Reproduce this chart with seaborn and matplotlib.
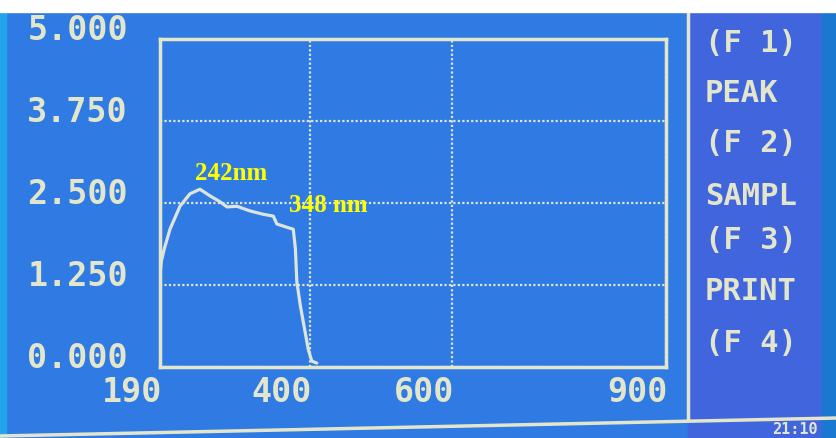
import matplotlib
matplotlib.use("Agg")
import matplotlib.pyplot as plt
import matplotlib.transforms as mtransforms
from matplotlib.patches import Rectangle
from matplotlib.lines import Line2D
import pandas as pd
import seaborn as sns

# spectrum
WAVELENGTH = [190, 192, 196, 204, 218, 232, 246, 260, 274, 284, 298, 316, 334,
              349, 354, 368, 377, 380, 382, 387, 391, 398, 403, 410]
ABSORBANCE = [1.42, 1.62, 1.80, 2.10, 2.45, 2.64, 2.71, 2.61, 2.52, 2.44, 2.45,
              2.38, 2.33, 2.30, 2.18, 2.13, 2.10, 1.80, 1.30, 0.93, 0.69, 0.27,
              0.09, 0.06]

X_TICKS = [190, 400, 600, 900]
Y_TICKS = [0.0, 1.25, 2.5, 3.75, 5.0]
Y_LABELS = ["0.000", "1.250", "2.500", "3.750", "5.000"]
MENU = ["(F 1)", "PEAK", "(F 2)", "SAMPL", "(F 3)", "PRINT", "(F 4)"]
PEAKS = [("242nm", 290, 2.96), ("348 nm", 426, 2.47)]

BG = "#2f7be3"
PANEL = "#4165dc"
FG = "#e4e6cc"
LINE = "#dde4da"
W, H = 837, 439

sns.set_style("white")
plt.rcParams["font.family"] = ["DejaVu Sans Mono"]

fig = plt.figure(figsize=(W / 100, H / 100), dpi=100, facecolor=BG)

# screen decorations
fig.add_artist(Rectangle((688 / W, 0), 134 / W, 1, transform=fig.transFigure,
                         color=PANEL, zorder=0))
fig.add_artist(Rectangle((822 / W, 0), 15 / W, 1, transform=fig.transFigure,
                         color="#1a78d0", zorder=0))
fig.add_artist(Rectangle((0, 0), 6 / W, 1, transform=fig.transFigure,
                         color="#22a4ec", zorder=0))
fig.add_artist(Rectangle((0, 1 - 13 / H), 1, 13 / H, transform=fig.transFigure,
                         color="white", zorder=5))
fig.add_artist(Line2D([688 / W, 688 / W], [1 - 13 / H, 1 - 421 / H],
                      transform=fig.transFigure, color=FG, lw=2.5))
fig.add_artist(Line2D([0, 1], [1 - 437 / H, 1 - 419 / H],
                      transform=fig.transFigure, color=FG, lw=2.5))

ax = fig.add_axes([160 / W, 71 / H, 506 / W, 328 / H])
ax.set_facecolor("none")

df = pd.DataFrame({"wl": WAVELENGTH, "abs": ABSORBANCE})
sns.lineplot(data=df, x="wl", y="abs", ax=ax, color=LINE, lw=2.3, sort=False)

ax.set_xlim(190, 900)
ax.set_ylim(0, 5)
ax.set_xticks(X_TICKS)
ax.set_xticklabels([str(v) for v in X_TICKS])
ax.set_yticks(Y_TICKS)
ax.set_yticklabels(Y_LABELS)
ax.set_xlabel("")
ax.set_ylabel("")
ax.grid(True, color=LINE, lw=1.6, linestyle=(0, (1, 1)))
for s in ax.spines.values():
    s.set_color(FG)
    s.set_linewidth(2.5)
ax.tick_params(axis="both", length=0, colors=FG, labelsize=24)
ax.tick_params(axis="y", pad=23)
ax.tick_params(axis="x", pad=6)
for lab in ax.get_yticklabels():
    lab.set_fontweight("bold")
    lab.set_transform(lab.get_transform()
                      + mtransforms.ScaledTranslation(0, 0.13, fig.dpi_scale_trans))
for lab in ax.get_xticklabels():
    lab.set_fontweight("bold")
    lab.set_horizontalalignment("right")
    lab.set_transform(lab.get_transform()
                      + mtransforms.ScaledTranslation(0.02, 0, fig.dpi_scale_trans))

for text, x, y in PEAKS:
    ax.text(x, y, text, color="#ffff00", fontsize=18, fontweight="bold",
            family="Liberation Serif", ha="center", va="center")

menu_y = [43, 93, 144, 197, 241, 291, 344]
for text, y in zip(MENU, menu_y):
    fig.text(705 / W, 1 - y / H, text, color=FG, fontsize=22, fontweight="bold",
             ha="left", va="center")

# clock in the bottom corner of the screen, mostly hidden in the photo
fig.text(772 / W, 2 / H, "21:10", color=FG, fontsize=11, fontweight="bold",
         ha="left", va="bottom")

fig.savefig("out.png", dpi=100, facecolor=BG)
